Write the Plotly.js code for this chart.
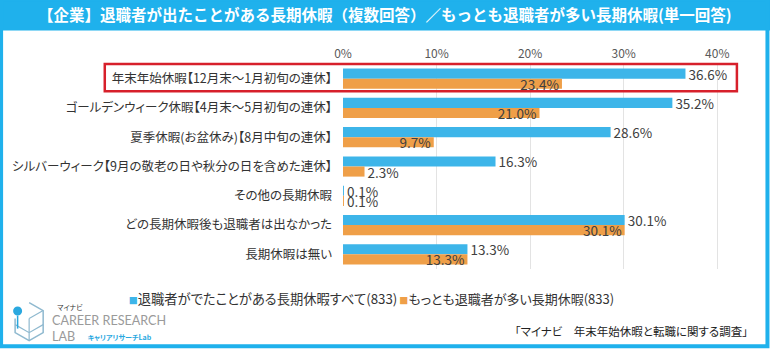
<!DOCTYPE html>
<html>
<head>
<meta charset="utf-8">
<script src="https://cdn.plot.ly/plotly-3.0.1.min.js"></script>
<style>
html,body{margin:0;padding:0;background:#fff;}
#chart{width:770px;height:351px;}
#chart .ytick text,
#chart .annotation:not([data-index="0"]) .annotation-text{font-feature-settings:"palt";}
</style>
</head>
<body>
<div id="chart"></div>
<script>
const categories = [
  "年末年始休暇【12月末～1月初旬の連休】",
  "ゴールデンウィーク休暇【4月末～5月初旬の連休】",
  "夏季休暇(お盆休み)【8月中旬の連休】",
  "シルバーウィーク【9月の敬老の日や秋分の日を含めた連休】",
  "その他の長期休暇",
  "どの長期休暇後も退職者は出なかった",
  "長期休暇は無い"
];
const allValues = [36.6, 35.2, 28.6, 16.3, 0.1, 30.1, 13.3];
const mostValues = [23.4, 21.0, 9.7, 2.3, 0.1, 30.1, 13.3];
const seriesNames = ["退職者がでたことがある長期休暇すべて(833)", "もっとも退職者が多い長期休暇(833)"];
const xTicks = [0, 10, 20, 30, 40];
const titleText = "【企業】退職者が出たことがある長期休暇（複数回答）／もっとも退職者が多い長期休暇(単一回答)";
const sourceText = "「マイナビ　年末年始休暇と転職に関する調査」";

const FONT = "Noto Sans CJK JP, Noto Sans, sans-serif";
const BLUE = "#3db5e9";
const ORANGE = "#ef9f48";
const FRAME = "#1fb1ec";

const Wd = 770, Ht = 351;
const L = 343.3, R = 735.6, T = 64.4, B = 268.6;
const PW = R - L, PH = B - T;
const xp = px => (px - L) / PW;
const yp = py => (B - py) / PH;

const fmt = v => v.toFixed(1) + "%";
const valFont = {family: FONT, size: 13.5, color: "#404040"};

const traceAll = {
  type: "bar", orientation: "h", name: seriesNames[0],
  y: categories, x: allValues,
  marker: {color: BLUE},
  text: allValues.map(fmt), textposition: "outside", constraintext: "none",
  textfont: valFont, outsidetextfont: valFont,
  cliponaxis: false, hoverinfo: "skip"
};
const traceMost = {
  type: "bar", orientation: "h", name: seriesNames[1],
  y: categories, x: mostValues,
  marker: {color: ORANGE},
  text: mostValues.map(fmt),
  textposition: mostValues.map(v => v < 5 ? "outside" : "inside"),
  insidetextanchor: "end", constraintext: "none",
  textfont: valFont, insidetextfont: valFont, outsidetextfont: valFont,
  cliponaxis: false, hoverinfo: "skip"
};

const shapes = [
  {type: "rect", xref: "paper", yref: "paper", x0: xp(0), x1: xp(Wd), y0: yp(0), y1: yp(31),
   fillcolor: FRAME, line: {width: 0}, layer: "below"},
  {type: "rect", xref: "paper", yref: "paper", x0: xp(2), x1: xp(767), y0: yp(0), y1: yp(345.5),
   fillcolor: "rgba(0,0,0,0)", line: {color: FRAME, width: 4}},
  {type: "rect", xref: "paper", yref: "paper", x0: xp(105.5), x1: xp(736.5), y0: yp(64.5), y1: yp(91.5),
   fillcolor: "rgba(0,0,0,0)", line: {color: "#d7202b", width: 2.5}},
  {type: "path", xref: "paper", yref: "paper",
   path: `M ${xp(30)},${yp(302)} L ${xp(44)},${yp(310)} L ${xp(44)},${yp(332)} L ${xp(30)},${yp(340)} L ${xp(16)},${yp(332)} L ${xp(16)},${yp(318)}`,
   line: {color: "#8fb9cf", width: 1.5}},
  {type: "path", xref: "paper", yref: "paper",
   path: `M ${xp(30)},${yp(318)} L ${xp(44)},${yp(310)} M ${xp(30)},${yp(318)} L ${xp(30)},${yp(340)} M ${xp(16)},${yp(324)} L ${xp(30)},${yp(332)} L ${xp(44)},${yp(324)}`,
   line: {color: "#8fb9cf", width: 1.2}},
  {type: "circle", xref: "paper", yref: "paper", x0: xp(14), x1: xp(23), y0: yp(306), y1: yp(315),
   fillcolor: "#2aa8df", line: {width: 0}},
  {type: "line", xref: "paper", yref: "paper", x0: xp(18.5), x1: xp(18.5), y0: yp(315), y1: yp(328),
   line: {color: "#2aa8df", width: 1.5}}
];

const annotations = [
  {text: "<b>" + titleText + "</b>", xref: "paper", yref: "paper", x: xp(385), y: yp(15),
   xanchor: "center", yanchor: "middle", showarrow: false,
   font: {family: FONT, size: 15.5, color: "#ffffff"}},
  {text: `<span style="color:${BLUE};font-size:9px">■</span>` + seriesNames[0], xref: "paper", yref: "paper",
   x: xp(123), y: yp(298), xanchor: "left", yanchor: "middle", showarrow: false,
   font: {family: FONT, size: 13.3, color: "#333333"}},
  {text: `<span style="color:${ORANGE};font-size:9px">■</span>` + seriesNames[1], xref: "paper", yref: "paper",
   x: xp(394), y: yp(298), xanchor: "left", yanchor: "middle", showarrow: false,
   font: {family: FONT, size: 13, color: "#333333"}},
  {text: sourceText, xref: "paper", yref: "paper", x: xp(760), y: yp(330),
   xanchor: "right", yanchor: "middle", showarrow: false,
   font: {family: FONT, size: 11.5, color: "#222222"}},
  {text: "マイナビ", xref: "paper", yref: "paper", x: xp(55), y: yp(306),
   xanchor: "left", yanchor: "middle", showarrow: false,
   font: {family: FONT, size: 7, color: "#333333"}},
  {text: "CAREER RESEARCH", xref: "paper", yref: "paper", x: xp(51), y: yp(320),
   xanchor: "left", yanchor: "middle", showarrow: false,
   font: {family: "Lato, Noto Sans, sans-serif", size: 12.6, color: "#9a9a9a"}},
  {text: "LAB", xref: "paper", yref: "paper", x: xp(51), y: yp(336),
   xanchor: "left", yanchor: "middle", showarrow: false,
   font: {family: "Lato, Noto Sans, sans-serif", size: 12.6, color: "#9a9a9a"}},
  {text: "<b>キャリアリサーチLab</b>", xref: "paper", yref: "paper", x: xp(84), y: yp(336),
   xanchor: "left", yanchor: "middle", showarrow: false,
   font: {family: FONT, size: 7, color: "#2aa8df"}}
];

const layout = {
  width: Wd, height: Ht,
  margin: {l: L, r: Wd - R, t: T, b: Ht - B, pad: 0},
  paper_bgcolor: "#ffffff", plot_bgcolor: "#ffffff",
  barmode: "group", bargap: 0.31, bargroupgap: 0,
  showlegend: false,
  font: {family: FONT, color: "#333333"},
  xaxis: {
    side: "top", range: [0, 42], tickvals: xTicks, ticktext: xTicks.map(v => v + "%"),
    showgrid: true, gridcolor: "#e3e3e3", gridwidth: 1, zeroline: false, showline: false,
    ticks: "", ticklabelstandoff: 3, tickfont: {family: FONT, size: 12, color: "#595959"}, fixedrange: true
  },
  yaxis: {
    type: "category", autorange: "reversed", showgrid: false, zeroline: false, showline: false,
    ticks: "", ticklabelstandoff: 10, tickfont: {family: FONT, size: 12.5, color: "#333333"}, fixedrange: true
  },
  shapes: shapes,
  annotations: annotations
};

Plotly.newPlot("chart", [traceAll, traceMost], layout, {displayModeBar: false, staticPlot: true});
</script>
</body>
</html>
